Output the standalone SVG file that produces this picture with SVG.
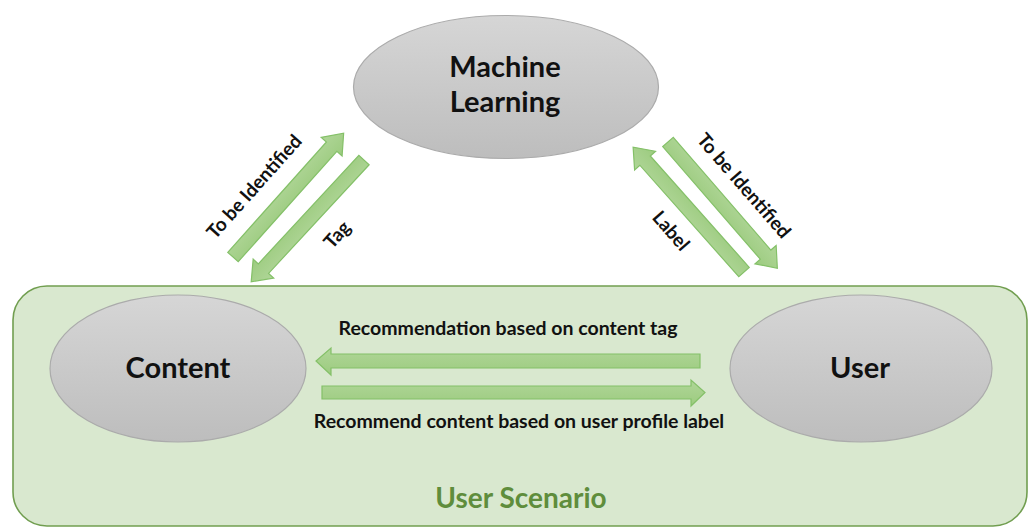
<svg xmlns="http://www.w3.org/2000/svg" width="1029" height="528" viewBox="0 0 1029 528">
  <defs>
    <linearGradient id="grayFill" x1="0" y1="0" x2="0" y2="1">
      <stop offset="0" stop-color="#d6d6d6"/>
      <stop offset="1" stop-color="#bdbdbd"/>
    </linearGradient>
    <linearGradient id="arrowFill" x1="0" y1="0" x2="0" y2="1">
      <stop offset="0" stop-color="#b0d698"/>
      <stop offset="1" stop-color="#9ccb7f"/>
    </linearGradient>
  </defs>
  <style>
    .node { fill: url(#grayFill); stroke: #ababab; stroke-width: 1.2; }
    .arrow { fill: url(#arrowFill); stroke: #84c068; stroke-width: 1.2; stroke-linejoin: miter; }
    .lbl { font-family: Lato, "Liberation Sans", sans-serif; font-weight: bold; fill: #111; }
    .nodeText { font-size: 29px; text-anchor: middle; }
    .edgeText { font-size: 19.5px; text-anchor: middle; }
    .diagText { font-size: 19px; text-anchor: middle; }
    .title { font-size: 28px; text-anchor: middle; fill: #5f8d3c; }
  </style>

  <rect width="1029" height="528" fill="#ffffff"/>

  <!-- scenario container -->
  <g id="user-scenario">
    <rect x="13" y="286" width="1014" height="240" rx="34" ry="34" fill="#d9e8cf" stroke="#719e50" stroke-width="1.6"/>
    <text class="lbl title" x="521" y="508">User Scenario</text>
  </g>

  <!-- connectors -->
  <g id="connectors">
    <!-- Content -> ML : To be Identified -->
    <g transform="translate(233,257) rotate(-48.2)">
      <path class="arrow" d="M0,-7 L148,-7 L148,-14 L166,0 L148,14 L148,7 L0,7 Z"/>
    </g>
    <!-- ML -> Content : Tag -->
    <g transform="translate(364,160) rotate(132.8)">
      <path class="arrow" d="M0,-7 L148,-7 L148,-14 L166,0 L148,14 L148,7 L0,7 Z"/>
    </g>
    <!-- User -> ML : Label -->
    <g transform="translate(744,272) rotate(-131.6)">
      <path class="arrow" d="M0,-7 L149,-7 L149,-14 L167,0 L149,14 L149,7 L0,7 Z"/>
    </g>
    <!-- ML -> User : To be Identified -->
    <g transform="translate(668,142) rotate(49.1)">
      <path class="arrow" d="M0,-7 L149,-7 L149,-14 L167,0 L149,14 L149,7 L0,7 Z"/>
    </g>
    <!-- User -> Content -->
    <path class="arrow" d="M700,354 L331,354 L331,348 L316,361 L331,375 L331,368 L700,368 Z"/>
    <!-- Content -> User -->
    <path class="arrow" d="M322,386 L691,386 L691,380 L705,392.5 L691,406 L691,399 L322,399 Z"/>

    <text class="lbl diagText" transform="translate(259,191) rotate(-48.2)">To be Identified</text>
    <text class="lbl diagText" transform="translate(342,239) rotate(-48.2)">Tag</text>
    <text class="lbl diagText" transform="translate(666,235) rotate(49.1)">Label</text>
    <text class="lbl diagText" transform="translate(739,190) rotate(49.1)">To be Identified</text>
    <text class="lbl edgeText" x="508" y="335">Recommendation based on content tag</text>
    <text class="lbl edgeText" x="519" y="428">Recommend content based on user profile label</text>
  </g>

  <!-- nodes -->
  <g id="machine-learning">
    <ellipse class="node" cx="506" cy="87" rx="152.5" ry="71.5"/>
    <text class="lbl nodeText" x="505" y="77">Machine</text>
    <text class="lbl nodeText" x="505" y="112">Learning</text>
  </g>
  <g id="content">
    <ellipse class="node" cx="178" cy="368.5" rx="128" ry="73.5"/>
    <text class="lbl nodeText" x="178" y="378">Content</text>
  </g>
  <g id="user">
    <ellipse class="node" cx="861" cy="368.5" rx="131" ry="73.5"/>
    <text class="lbl nodeText" x="860" y="378">User</text>
  </g>
</svg>
